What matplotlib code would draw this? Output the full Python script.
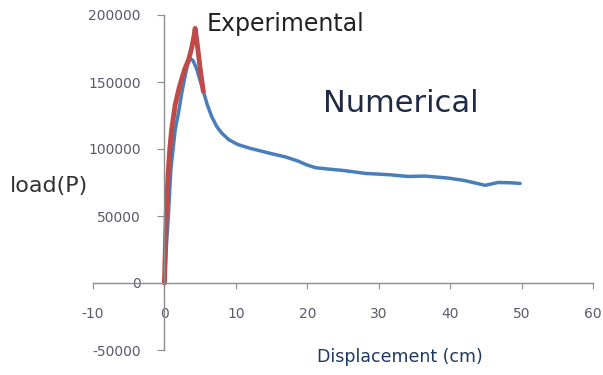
import matplotlib.pyplot as plt

plt.rcParams['axes.unicode_minus'] = False

# Numerical (blue) curve
num_disp = [0, 0.3, 0.55, 0.9, 1.5, 2.0, 2.4, 2.8, 3.2, 3.6, 4.0, 4.5, 5.0, 5.45,
            6.0, 6.6, 7.3, 8.0, 9.0, 10.3, 12.0, 15.0, 17.0, 18.7, 20.0, 21.2,
            23.4, 25.0, 28.1, 31.5, 34.1, 36.5, 39.7, 42.0, 44.9, 46.7, 48.5, 49.8]
num_load = [0, 30000, 50000, 85000, 114000, 128000, 141000, 152000, 162000,
            167500, 166000, 160000, 151000, 143000, 133000, 124400, 117000,
            112000, 107000, 103300, 100500, 96500, 94000, 91000, 88000, 86000,
            84800, 84000, 81800, 80800, 79500, 79800, 78300, 76500, 72900,
            75000, 74800, 74300]

# Experimental (red) curve
exp_disp = [0, 0.25, 0.5, 0.75, 1.0, 1.5, 2.1, 2.8, 3.4, 3.8, 4.1, 4.3, 4.6, 5.0, 5.45]
exp_load = [0, 50000, 80000, 100000, 114000, 133000, 146500, 159000, 167000,
            175000, 183000, 190000, 178000, 160000, 143000]

x_ticks = [-10, 0, 10, 20, 30, 40, 50, 60]
y_ticks = [-50000, 0, 50000, 100000, 150000, 200000]

fig = plt.figure(figsize=(6.03, 3.75), dpi=100)
ax = fig.add_axes([93 / 603, 1 - 350 / 375, 500 / 603, 335 / 375])

ax.plot(num_disp, num_load, color='#4A7EBB', lw=2.5, solid_capstyle='round',
        solid_joinstyle='round')
ax.plot(exp_disp, exp_load, color='#BE4B48', lw=3.5, solid_capstyle='round',
        solid_joinstyle='round')

ax.set_xlim(-10, 60)
ax.set_ylim(-50000, 200000)
ax.set_xticks(x_ticks)
ax.set_yticks(y_ticks)

# axes cross at zero, like in Excel
ax.spines['left'].set_position(('data', 0))
ax.spines['bottom'].set_position(('data', 0))
ax.spines['top'].set_visible(False)
ax.spines['right'].set_visible(False)
for s in ('left', 'bottom'):
    ax.spines[s].set_color('#8C8C8C')
    ax.spines[s].set_linewidth(1.0)

ax.tick_params(axis='y', direction='out', length=5, color='#8C8C8C',
               labelsize=10, labelcolor='#5A5A6A', pad=12)
ax.tick_params(axis='x', direction='out', length=4, color='#8C8C8C',
               labelsize=10, labelcolor='#5A5A6A', pad=13)
ax.patch.set_visible(False)

ax.text(5.9, 193000, 'Experimental', fontsize=17,
        color='#222222', va='center', ha='left')
ax.text(22.2, 134000, 'Numerical', fontsize=22,
        color='#1F2A44', va='center', ha='left')

fig.text(10 / 603, 1 - 186 / 375, 'load(P)', fontsize=16,
         color='#333333', va='center', ha='left')
fig.text(400 / 603, 1 - 357 / 375, 'Displacement (cm)', fontsize=12.5,
         color='#1F3A60', va='center', ha='center')

fig.savefig('out.png', dpi=100)
